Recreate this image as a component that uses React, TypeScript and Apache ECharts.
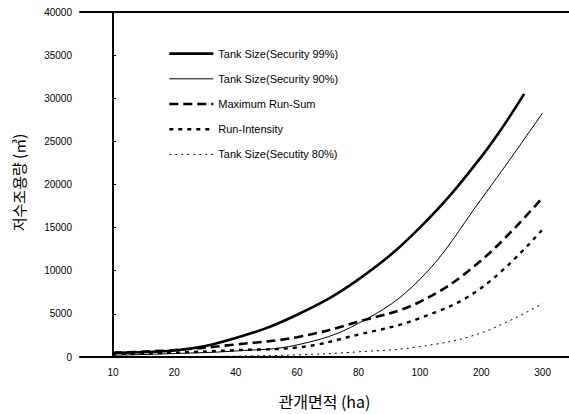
import React, { useEffect, useRef } from "react";
import * as echarts from "echarts";

// x categories (irrigation area, ha) – drawn evenly spaced, as in the reference
const xLabels = ["10", "20", "40", "60", "80", "100", "200", "300"];

// y-axis ticks
const yMin = 0;
const yMax = 40000;
const yStep = 5000;

// series names
const seriesNames = [
  "Tank Size(Security 99%)",
  "Tank Size(Security 90%)",
  "Maximum Run-Sum",
  "Run-Intensity",
  "Tank Size(Secutity 80%)",
];

// values (m³) at each x category
const secu99 = [500, 750, 2200, 4900, 9000, 15000, 23200];
// the 99% curve stops a little before the 300 ha position
const secu99EndPos = 6.7;
const secu99EndValue = 30500;
const secu90 = [200, 400, 700, 1400, 3900, 9000, 18300, 28300];
const maxRunSum = [500, 800, 1450, 2300, 4100, 6400, 11200, 18500];
const runIntensity = [350, 500, 800, 1100, 2600, 4500, 8000, 14800];
const secu80 = [0, 50, 100, 250, 600, 1200, 2800, 6200];

const toPairs = (arr: number[]) => arr.map((v, i) => [i, v]);

export default function App() {
  const ref = useRef<HTMLDivElement>(null);

  useEffect(() => {
    if (!ref.current) return;
    const chart = echarts.init(ref.current, null, { renderer: "svg" });
    const font = "'Liberation Sans', Arial, sans-serif";
    const kfont = "'Noto Sans CJK KR', sans-serif";

    const styles = [
      { color: "#000", width: 2.6, type: "solid" as any },
      { color: "#000", width: 1, type: "solid" as any },
      { color: "#000", width: 2.6, type: [9, 5] as any },
      { color: "#000", width: 2.4, type: [4, 5] as any },
      { color: "#000", width: 1, type: [2, 4] as any },
    ];
    const dataSets = [
      [...toPairs(secu99), [secu99EndPos, secu99EndValue]],
      toPairs(secu90),
      toPairs(maxRunSum),
      toPairs(runIntensity),
      toPairs(secu80),
    ];

    chart.setOption({
      animation: false,
      backgroundColor: "#ffffff",
      grid: { left: 80, right: 0, top: 12, bottom: 44, containLabel: false },
      legend: {
        orient: "vertical",
        left: 163,
        top: 43,
        itemWidth: 44,
        itemHeight: 14,
        itemGap: 14,
        itemStyle: { color: "transparent", borderColor: "transparent", borderWidth: 0, opacity: 0 },
        textStyle: { fontFamily: font, fontSize: 11, color: "#000" },
        data: seriesNames.map((n, i) => ({
          name: n,
          lineStyle: { width: styles[i].width, type: styles[i].type, color: "#000" },
        })),
      },
      xAxis: [
        {
          type: "value",
          min: -0.537,
          max: 7.43,
          position: "bottom",
          axisLine: { show: true, onZero: false, lineStyle: { color: "#000", width: 2 } },
          axisTick: { show: false },
          splitLine: { show: false },
          axisLabel: {
            customValues: xLabels.map((_, i) => i),
            formatter: (v: number) => xLabels[Math.round(v)] ?? "",
            fontFamily: font,
            fontSize: 10,
            color: "#000",
            margin: 10,
          },
          name: "관개면적 (ha)",
          nameLocation: "middle",
          nameGap: 36,
          nameTextStyle: { fontFamily: kfont, fontSize: 16, color: "#000" },
        },
        {
          type: "value",
          min: -0.537,
          max: 7.43,
          position: "top",
          axisLine: { show: true, onZero: false, lineStyle: { color: "#000", width: 2 } },
          axisTick: { show: false },
          axisLabel: { show: false },
          splitLine: { show: false },
        },
      ],
      yAxis: {
        type: "value",
        min: yMin,
        max: yMax,
        interval: yStep,
        axisLine: { show: true, lineStyle: { color: "#000", width: 2 } },
        axisTick: { show: true, inside: true, length: 3, lineStyle: { color: "#000" } },
        splitLine: { show: false },
        axisLabel: {
          fontFamily: font,
          fontSize: 10,
          color: "#000",
          margin: 8,
          formatter: (v: number) => String(v),
        },
        name: "저수조용량 (㎥)",
        nameLocation: "middle",
        nameRotate: 90,
        nameGap: 54,
        nameTextStyle: { fontFamily: kfont, fontSize: 15, color: "#000", padding: [0, 0, 0, 4] },
      },
      series: seriesNames.map((n, i) => ({
        type: "line",
        name: n,
        smooth: 0.4,
        showSymbol: false,
        symbol: "none",
        data: dataSets[i],
        lineStyle: styles[i],
        itemStyle: { color: "#000" },
      })),
    });

    return () => chart.dispose();
  }, []);

  return (
    <div
      ref={ref}
      style={{ position: "fixed", left: 0, top: 0, width: 569, height: 414, background: "#fff" }}
    />
  );
}
